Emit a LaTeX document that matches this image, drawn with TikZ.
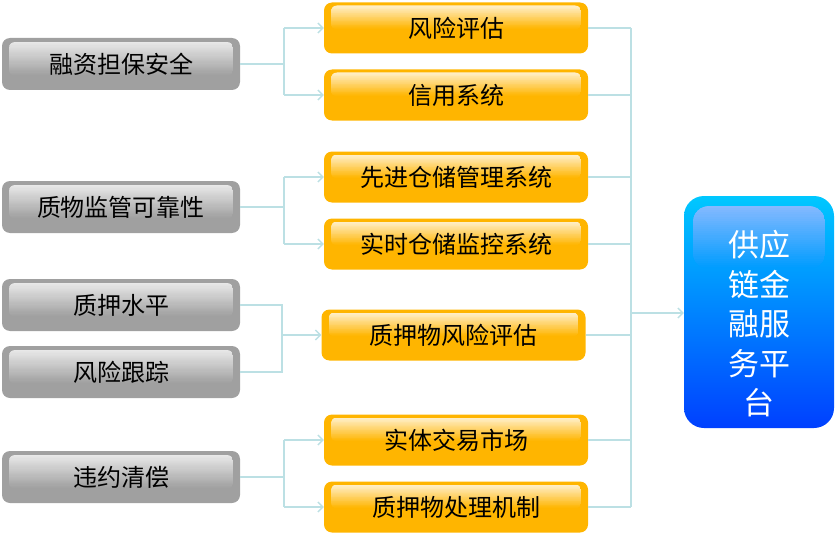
\documentclass[tikz,border=0pt]{standalone}
\usepackage{fontspec}
\setmainfont{Noto Sans CJK SC}
\usetikzlibrary{arrows.meta,calc}
\definecolor{lnc}{RGB}{188,224,228}
\definecolor{org}{RGB}{255,181,0}
\definecolor{orglt}{RGB}{255,240,205}
\definecolor{gry}{RGB}{160,160,160}
\definecolor{grylt}{RGB}{232,232,232}
\definecolor{bltop}{RGB}{0,200,255}
\definecolor{blbot}{RGB}{0,64,255}
\definecolor{blhi}{RGB}{195,242,255}
\tikzset{
  gloss/.style n args={6}{path picture={
    \coordinate (hA) at ([xshift=#3,yshift=-#4]path picture bounding box.north west);
    \coordinate (hB) at ([xshift=-#3,yshift=#5]path picture bounding box.south east);
    \begin{scope}[sharp corners]
      \clip[rounded corners=#6] (hA) rectangle (hB);
      \foreach \i in {0,...,29}{
        \pgfmathtruncatemacro\p{100-100*\i/29}
        \fill[sharp corners, #1!\p!#2] ($(hA)!\i/30!(hA|-hB)$) rectangle ($(hB|-hA)!{(\i+1.6)/30}!(hB)$);
      }
    \end{scope}}},
  base/.style={rounded corners=8pt, inner sep=0pt, text=black,
    font=\fontsize{24}{26}\selectfont},
  graybox/.style={base, fill=gry, minimum width=238pt, minimum height=52pt,
    gloss={grylt}{gry}{7pt}{4pt}{14pt}{6pt}},
  orgbox/.style={base, fill=org, minimum width=264pt, minimum height=51pt,
    gloss={orglt}{org}{7pt}{3pt}{24pt}{6pt}},
  bluebox/.style={rounded corners=20pt, inner sep=0pt, text=white, align=center,
    top color=bltop, bottom color=blbot, minimum width=150pt, minimum height=232pt,
    font=\fontsize{31}{39.5}\selectfont,
    gloss={blhi}{bltop!68!blbot}{9pt}{10pt}{159pt}{16pt}},
  ln/.style={draw=lnc, line width=1.3pt},
  arr/.style={ln, -{Straight Barb[length=5pt,width=10pt,line width=1.3pt]}}
}
\begin{document}
\begin{tikzpicture}[x=1pt,y=1pt]
\useasboundingbox (0,0) rectangle (836,-535);
% gray boxes
\node[graybox] (g1) at (121,-64) {融资担保安全};
\node[graybox] (g2) at (121,-207) {质物监管可靠性};
\node[graybox] (g3) at (121,-305) {质押水平};
\node[graybox] (g4) at (121,-372) {风险跟踪};
\node[graybox] (g5) at (121,-477) {违约清偿};
% orange boxes
\node[orgbox] (o1) at (456,-28) {风险评估};
\node[orgbox] (o2) at (456,-95) {信用系统};
\node[orgbox] (o3) at (456,-177) {先进仓储管理系统};
\node[orgbox] (o4) at (456,-244) {实时仓储监控系统};
\node[orgbox] (o5) at (453.5,-335) {质押物风险评估};
\node[orgbox] (o6) at (456,-440) {实体交易市场};
\node[orgbox] (o7) at (456,-507) {质押物处理机制};
% blue box
\node[bluebox] (b) at (759,-312) {\raisebox{-16pt}[\height][\depth]{\renewcommand\arraystretch{1}\begin{tabular}{@{}c@{}}供应\\链金\\融服\\务平\\台\end{tabular}}};
% left connectors
\coordinate (j1) at (284,-64);
\draw[ln] (g1.east) -- (j1);
\draw[ln] (j1 |- o1.west) -- (j1 |- o2.west);
\draw[arr] (j1 |- o1.west) -- (o1.west);
\draw[arr] (j1 |- o2.west) -- (o2.west);
\coordinate (j2) at (284,-207);
\draw[ln] (g2.east) -- (j2);
\draw[ln] (j2 |- o3.west) -- (j2 |- o4.west);
\draw[arr] (j2 |- o3.west) -- (o3.west);
\draw[arr] (j2 |- o4.west) -- (o4.west);
\coordinate (j3) at (282,-305);
\draw[ln] (g3.east) -- (j3) -- (j3 |- g4.east) -- (g4.east);
\draw[arr] (j3 |- o5.west) -- (o5.west);
\coordinate (j5) at (284,-477);
\draw[ln] (g5.east) -- (j5);
\draw[ln] (j5 |- o6.west) -- (j5 |- o7.west);
\draw[arr] (j5 |- o6.west) -- (o6.west);
\draw[arr] (j5 |- o7.west) -- (o7.west);
% right connectors
\coordinate (r) at (631,-313);
\foreach \o in {o1,o2,o3,o4,o5,o6,o7} {\draw[ln] (\o.east) -- (r |- \o.east);}
\draw[ln] (r |- o1.east) -- (r |- o7.east);
\draw[arr] (r) -- (b.west |- r);
\end{tikzpicture}
\end{document}
